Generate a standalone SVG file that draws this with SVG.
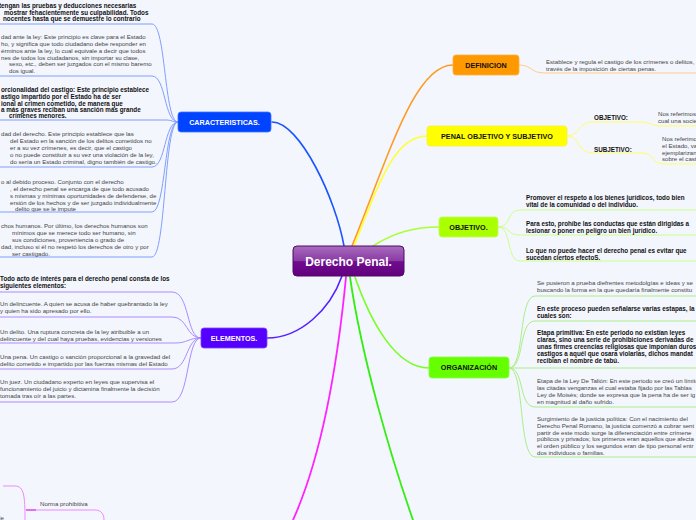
<svg xmlns="http://www.w3.org/2000/svg" width="696" height="520" viewBox="0 0 696 520">
<defs>
<linearGradient id="gc" x1="0" y1="0" x2="0" y2="1">
<stop offset="0" stop-color="#a86cbd"/>
<stop offset="0.5" stop-color="#8a3aa4"/>
<stop offset="0.52" stop-color="#700c8e"/>
<stop offset="1" stop-color="#62007e"/>
</linearGradient>
<style>
text{font-family:"Liberation Sans",Arial,sans-serif;}
.t{font-size:6.1px;fill:#444;}
.b{font-size:6.3px;fill:#111;font-weight:bold;}
.lbl{font-size:7.2px;font-weight:bold;text-anchor:middle;}
.w{fill:#fff;}
.k{fill:#111;}
.c{fill:none;stroke-linecap:round;}
</style>
</defs>
<rect width="696" height="520" fill="#f4f6fd"/>

<g id="connectors">
<path class="c" stroke="#1a55ff" stroke-width="1.6" d="M344,246 C336,200 300,122 272,122"/>
<path class="c" stroke="#ff9922" stroke-width="1.6" d="M352,246 C390,152 415,65 453,65"/>
<path class="c" stroke="#ffff33" stroke-width="1.6" d="M354,246 C380,180 395,136 427,136"/>
<path class="c" stroke="#aaff33" stroke-width="1.6" d="M373,246 C395,232 415,227 439,227"/>
<path class="c" stroke="#77ff22" stroke-width="1.6" d="M355,277 C370,320 395,368 429,368"/>
<path class="c" stroke="#33ee11" stroke-width="1.8" d="M350,277 C362,360 392,460 413,520"/>
<path class="c" stroke="#ff22ff" stroke-width="1.8" d="M346,277 C336,380 320,460 293,520"/>
<path class="c" stroke="#5522ff" stroke-width="1.6" d="M342,276 C330,310 300,338 267,338"/>

<g stroke="#7f9fff" stroke-width="1" fill="none">
<path d="M0,24 L152,24 C166,24 164,122 178,122"/>
<path d="M0,76 L152,76 C166,76 164,122 178,122"/>
<path d="M0,120 L166,120 C172,120 172,122 178,122"/>
<path d="M0,167 L152,167 C166,167 164,122 178,122"/>
<path d="M0,212 L152,212 C166,212 164,122 178,122"/>
<path d="M0,257 L152,257 C166,257 164,122 178,122"/>
</g>
<g stroke="#aa8cff" stroke-width="1" fill="none">
<path d="M0,292 L172,292 C190,292 186,338 201,338"/>
<path d="M0,317 L172,317 C188,317 186,338 201,338"/>
<path d="M0,343 L175,343 C188,343 188,338 201,338"/>
<path d="M0,369 L172,369 C188,369 186,338 201,338"/>
<path d="M0,402 L172,402 C190,402 186,338 201,338"/>
</g>
<g stroke="#ee88ff" stroke-width="1" fill="none">
<path d="M3,486 L15,486 C24,486 25,496 25,520"/>
<path d="M26,510 L95,510 C102,510 104,515 104,520"/>
</g>
<path d="M26,510 L36,510" stroke="#e070f0" stroke-width="2" fill="none"/>
<path d="M519,65 C532,65 530,73 545,73 L696,73" stroke="#ffcc88" stroke-width="1" fill="none"/>
<g stroke="#ffff66" stroke-width="1" fill="none">
<path d="M567,136 C580,136 578,122 592,122 L640,122 C652,122 650,126 662,126 L696,126"/>
<path d="M567,136 C580,136 578,153 592,153 L643,153 C655,153 650,164 665,164 L696,164"/>
</g>
<g stroke="#ccff88" stroke-width="1" fill="none">
<path d="M498,227 C512,227 506,210 520,210 L696,210"/>
<path d="M498,227 C512,227 506,235 520,235 L696,235"/>
<path d="M498,227 C512,227 506,261 520,261 L696,261"/>
</g>
<g stroke="#aaee88" stroke-width="1" fill="none">
<path d="M509,368 C525,368 518,296 535,296 L696,296"/>
<path d="M509,368 C525,368 518,321 535,321 L696,321"/>
<path d="M509,368 L696,368"/>
<path d="M509,368 C525,368 518,407 535,407 L696,407"/>
<path d="M509,368 C525,368 518,457 535,457 L696,457"/>
</g>
</g>

<g id="center">
<rect x="293" y="246" width="111" height="30" rx="4" fill="url(#gc)" stroke="#4e0a66" stroke-width="1"/>
<text x="348.5" y="265.5" text-anchor="middle" font-size="12" font-weight="bold" fill="#fff">Derecho Penal.</text>
</g>

<g id="caracteristicas">
<rect x="178" y="112" width="93" height="20" rx="3" fill="#0044ff" stroke="#3f72ff" stroke-width="0.8"/>
<text class="lbl w" x="224.5" y="124.5">CARACTERISTICAS.</text>
</g>
<g id="car-1">
<text class="b" x="-1" y="8">tengan las pruebas y deducciones necesarias</text>
<text class="b" x="4" y="14.5">mostrar fehacientemente su culpabilidad. Todos</text>
<text class="b" x="3" y="21">nocentes hasta que se demuestre lo contrario</text>
</g>
<g id="car-2">
<text class="t" x="1" y="39">dad ante la ley: Este principio es clave para el Estado</text>
<text class="t" x="1" y="46">ho, y significa que todo ciudadano debe responder en</text>
<text class="t" x="1" y="53">érminos ante la ley, lo cual equivale a decir que todos</text>
<text class="t" x="1" y="59.5">nes de todos los ciudadanos, sin importar su clase,</text>
<text class="t" x="9" y="66">sexo, etc., deben ser juzgados con el mismo baremo</text>
<text class="t" x="9" y="73">dos igual.</text>
</g>
<g id="car-3">
<text class="b" x="1" y="92">orcionalidad del castigo: Este principio establece</text>
<text class="b" x="1" y="99">astigo impartido por el Estado ha de ser</text>
<text class="b" x="1" y="105.5">ional al crimen cometido, de manera que</text>
<text class="b" x="1" y="112">a más graves reciban una sanción más grande</text>
<text class="b" x="9" y="118">crímenes menores.</text>
</g>
<g id="car-4">
<text class="t" x="1" y="136">dad del derecho. Este principio establece que las</text>
<text class="t" x="10" y="143">del Estado en la sanción de los delitos cometidos no</text>
<text class="t" x="10" y="150">er a su vez crímenes, es decir, que el castigo</text>
<text class="t" x="10" y="157">o no puede constituir a su vez una violación de la ley,</text>
<text class="t" x="10" y="164">do sería un Estado criminal, digno también de castigo.</text>
</g>
<g id="car-5">
<text class="t" x="1" y="184">o al debido proceso. Conjunto con el derecho</text>
<text class="t" x="10" y="191">, el derecho penal se encarga de que todo acusado</text>
<text class="t" x="10" y="198">s mismas y mínimas oportunidades de defenderse, de</text>
<text class="t" x="10" y="204.5">ersión de los hechos y de ser juzgado individualmente</text>
<text class="t" x="15" y="211">delito que se le impute</text>
</g>
<g id="car-6">
<text class="t" x="1" y="228">chos humanos. Por último, los derechos humanos son</text>
<text class="t" x="12" y="235">mínimos que se merece todo ser humano, sin</text>
<text class="t" x="12" y="242">sus condiciones, proveniencia o grado de</text>
<text class="t" x="1" y="249">dad, incluso si él no respetó los derechos de otro y por</text>
<text class="t" x="12" y="255.5">ser castigado.</text>
</g>

<g id="elementos">
<rect x="201" y="328" width="66" height="20" rx="3" fill="#5500ff" stroke="#7a44ff" stroke-width="0.8"/>
<text class="lbl w" x="234" y="340.5">ELEMENTOS.</text>
</g>
<g id="el-0">
<text class="b" x="0" y="281">Todo acto de interés para el derecho penal consta de los</text>
<text class="b" x="0" y="288">siguientes elementos:</text>
</g>
<g id="el-1">
<text class="t" x="0" y="306">Un delincuente. A quien se acusa de haber quebrantado la ley</text>
<text class="t" x="0" y="313">y quien ha sido apresado por ello.</text>
</g>
<g id="el-2">
<text class="t" x="0" y="334">Un delito. Una ruptura concreta de la ley atribuible a un</text>
<text class="t" x="0" y="340.5">delincuente y del cual haya pruebas, evidencias y versiones</text>
</g>
<g id="el-3">
<text class="t" x="0" y="359">Una pena. Un castigo o sanción proporcional a la gravedad del</text>
<text class="t" x="0" y="365.5">delito cometido e impartido por las fuerzas mismas del Estado</text>
</g>
<g id="el-4">
<text class="t" x="0" y="384">Un juez. Un ciudadano experto en leyes que supervisa el</text>
<text class="t" x="0" y="391">funcionamiento del juicio y dictamina finalmente la decisión</text>
<text class="t" x="0" y="397.5">tomada tras oír a las partes.</text>
</g>

<g id="norma">
<text class="t" x="40" y="506">Norma prohibitiva</text>
<text class="t" x="-3" y="519.5">de</text>
</g>

<g id="definicion">
<rect x="453" y="55" width="66" height="20" rx="3" fill="#ff9900" stroke="#ffb040" stroke-width="0.8"/>
<text class="lbl k" x="486" y="67.5">DEFINICION</text>
</g>
<g id="def-1">
<text class="t" x="546" y="64">Establece y regula el castigo de los crímenes o delitos, a</text>
<text class="t" x="546" y="71">través de la imposición de ciertas penas.</text>
</g>

<g id="penal">
<rect x="427" y="126" width="140" height="20" rx="3" fill="#ffff00" stroke="#f2f240" stroke-width="0.8"/>
<text class="lbl k" x="497" y="138.5">PENAL OBJETIVO Y SUBJETIVO</text>
</g>
<g id="pen-obj">
<text class="b" x="594" y="120">OBJETIVO:</text>
</g>
<g id="pen-obj-1">
<text class="t" x="658" y="116">Nos referimos</text>
<text class="t" x="658" y="122.5">cual una socie</text>
</g>
<g id="pen-sub">
<text class="b" x="594" y="152">SUBJETIVO:</text>
</g>
<g id="pen-sub-1">
<text class="t" x="662" y="141">Nos referimos</text>
<text class="t" x="662" y="148">el Estado, va</text>
<text class="t" x="662" y="154.5">ejemplarizan</text>
<text class="t" x="662" y="161">sobre el cast</text>
</g>

<g id="objetivo">
<rect x="439" y="217" width="59" height="20" rx="3" fill="#aaff00" stroke="#c0ff50" stroke-width="0.8"/>
<text class="lbl k" x="468.5" y="229.5">OBJETIVO.</text>
</g>
<g id="obj-1">
<text class="b" x="526" y="200">Promover el respeto a los bienes jurídicos, todo bien</text>
<text class="b" x="526" y="207">vital de la comunidad o del individuo.</text>
</g>
<g id="obj-2">
<text class="b" x="526" y="226">Para esto, prohíbe las conductas que están dirigidas a</text>
<text class="b" x="526" y="233">lesionar o poner en peligro un bien jurídico.</text>
</g>
<g id="obj-3">
<text class="b" x="526" y="253">Lo que no puede hacer el derecho penal es evitar que</text>
<text class="b" x="526" y="260">sucedan ciertos efectoS.</text>
</g>

<g id="organizacion">
<rect x="429" y="357" width="80" height="21" rx="3" fill="#66ff00" stroke="#88ff44" stroke-width="0.8"/>
<text class="lbl k" x="469" y="370">ORGANIZACIÓN</text>
</g>
<g id="org-1">
<text class="t" x="537" y="285">Se pusieron a prueba diefrentes metodolgías e ideas y se</text>
<text class="t" x="537" y="292">buscando la forma en la que quedaría finalmente constitu</text>
</g>
<g id="org-2">
<text class="b" x="537" y="311">En este proceso pueden señalarse varias estapas, la</text>
<text class="b" x="537" y="318">cuales son:</text>
</g>
<g id="org-3">
<text class="b" x="537" y="335">Etapa primitiva: En este periodo no existían leyes</text>
<text class="b" x="537" y="342">claras, sino una serie de prohibiciones derivadas de</text>
<text class="b" x="537" y="349">unas firmes creencias religiosas que imponían duros</text>
<text class="b" x="537" y="356">castigos a aquél que osara violarlas, dichos mandat</text>
<text class="b" x="537" y="363">recibían el nombre de tabú.</text>
</g>
<g id="org-4">
<text class="t" x="537" y="383">Etapa de la Ley De Talión: En este periodo se creó un límite</text>
<text class="t" x="537" y="390">las citadas venganzas el cual estaba fijado por las Tablas</text>
<text class="t" x="537" y="397">Ley de Moisés; donde se expresa que la pena ha de ser ig</text>
<text class="t" x="537" y="403.5">en magnitud al daño sufrido.</text>
</g>
<g id="org-5">
<text class="t" x="537" y="421">Surgimiento de la justicia política: Con el nacimiento del</text>
<text class="t" x="537" y="428">Derecho Penal Romano, la justicia comenzó a cobrar sent</text>
<text class="t" x="537" y="434.5">partir de este modo surge la diferenciación entre crímene</text>
<text class="t" x="537" y="441">públicos y privados; los primeros eran aquellos que afecta</text>
<text class="t" x="537" y="448">el orden público y los segundos eran de tipo personal entr</text>
<text class="t" x="537" y="455">dos individuos o familias.</text>
</g>
</svg>
